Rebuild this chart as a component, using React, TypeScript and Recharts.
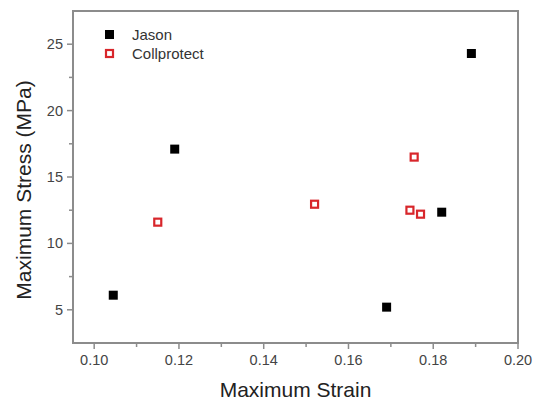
import {
  ScatterChart,
  Scatter,
  XAxis,
  YAxis,
  ReferenceArea,
} from 'recharts'

const jasonStrain = [0.1045, 0.119, 0.189, 0.169, 0.182]
const jasonStress = [6.1, 17.1, 24.3, 5.2, 12.35]
const collStrain = [0.115, 0.152, 0.1755, 0.1745, 0.177]
const collStress = [11.6, 12.95, 16.5, 12.5, 12.2]

const xTicks = [0.1, 0.11, 0.12, 0.13, 0.14, 0.15, 0.16, 0.17, 0.18, 0.19, 0.2]
const yTicks = [5, 7.5, 10, 12.5, 15, 17.5, 20, 22.5, 25]

const jasonData = jasonStrain.map((x, i) => ({ x, y: jasonStress[i] }))
const collData = collStrain.map((x, i) => ({ x, y: collStress[i] }))

const FONT = '"Liberation Sans", Arial, sans-serif'
const AXIS = '#8c8c8c'
const RED = '#d8262b'

const XTick = ({ x, y, payload }: any) => {
  const major = Math.round(payload.value * 100) % 2 === 0
  return (
    <g>
      <line x1={x} x2={x} y1={y} y2={y + (major ? 6 : 4)} stroke={AXIS} strokeWidth={1.5} />
      {major && (
        <text x={x} y={y + 22} textAnchor="middle" fontSize={14.5} fill="#444" fontFamily={FONT}>
          {payload.value.toFixed(2)}
        </text>
      )}
    </g>
  )
}

const YTick = ({ x, y, payload }: any) => {
  const major = payload.value % 5 === 0
  return (
    <g>
      <line x1={x} x2={x - (major ? 6 : 4)} y1={y} y2={y} stroke={AXIS} strokeWidth={1.5} />
      {major && (
        <text x={x - 10} y={y + 5} textAnchor="end" fontSize={14.5} fill="#444" fontFamily={FONT}>
          {payload.value}
        </text>
      )}
    </g>
  )
}

const YLabel = ({ viewBox }: any) => {
  const cx = viewBox.x + 10
  const cy = viewBox.y + viewBox.height / 2 + 13
  return (
    <text
      x={cx}
      y={cy}
      transform={`rotate(-90, ${cx}, ${cy})`}
      textAnchor="middle"
      dominantBaseline="central"
      fontSize={21}
      fill="#222"
      fontFamily={FONT}
    >
      Maximum Stress (MPa)
    </text>
  )
}

const FilledSquare = ({ cx, cy }: any) => (
  <rect x={cx - 4.5} y={cy - 4.5} width={9} height={9} fill="#000" />
)

const HollowSquare = ({ cx, cy }: any) => (
  <rect x={cx - 3.5} y={cy - 3.5} width={7} height={7} fill="#fff" stroke={RED} strokeWidth={2.2} />
)

const LegendBox = () => (
  <div
    style={{
      position: 'absolute',
      left: 99,
      top: 25,
      fontFamily: FONT,
      fontSize: 15,
      color: '#333',
      lineHeight: '19px',
    }}
  >
    <div style={{ display: 'flex', alignItems: 'center' }}>
      <svg width={22} height={19}>
        <rect x={6} y={5} width={9} height={9} fill="#000" />
      </svg>
      <span style={{ marginLeft: 11 }}>Jason</span>
    </div>
    <div style={{ display: 'flex', alignItems: 'center' }}>
      <svg width={22} height={19}>
        <rect x={7} y={6} width={7} height={7} fill="#fff" stroke={RED} strokeWidth={2.2} />
      </svg>
      <span style={{ marginLeft: 11 }}>Collprotect</span>
    </div>
  </div>
)

export default function App() {
  return (
    <div style={{ position: 'absolute', left: 0, top: 0, width: 539, height: 401, background: '#fff' }}>
      <ScatterChart width={539} height={401} margin={{ top: 11, right: 21, bottom: 0, left: 13 }}>
        <XAxis
          type="number"
          dataKey="x"
          domain={[0.095, 0.2]}
          ticks={xTicks}
          interval={0}
          allowDataOverflow
          height={58}
          tickSize={0}
          tickMargin={0}
          tickLine={false}
          tick={<XTick />}
          axisLine={{ stroke: AXIS, strokeWidth: 2 }}
          label={{
            value: 'Maximum Strain',
            position: 'insideBottom',
            offset: 4,
            fontSize: 21,
            fill: '#222',
            fontFamily: FONT,
          }}
        />
        <YAxis
          type="number"
          dataKey="y"
          domain={[2.5, 27.5]}
          ticks={yTicks}
          interval={0}
          allowDataOverflow
          width={60}
          tickSize={0}
          tickMargin={0}
          tickLine={false}
          tick={<YTick />}
          axisLine={{ stroke: AXIS, strokeWidth: 2 }}
          label={<YLabel />}
        />
        <ReferenceArea
          x1={0.095}
          x2={0.2}
          y1={2.5}
          y2={27.5}
          fill="none"
          stroke={AXIS}
          strokeWidth={2}
        />
        <Scatter name="Jason" data={jasonData} shape={<FilledSquare />} isAnimationActive={false} />
        <Scatter name="Collprotect" data={collData} shape={<HollowSquare />} isAnimationActive={false} />
      </ScatterChart>
      <LegendBox />
    </div>
  )
}
